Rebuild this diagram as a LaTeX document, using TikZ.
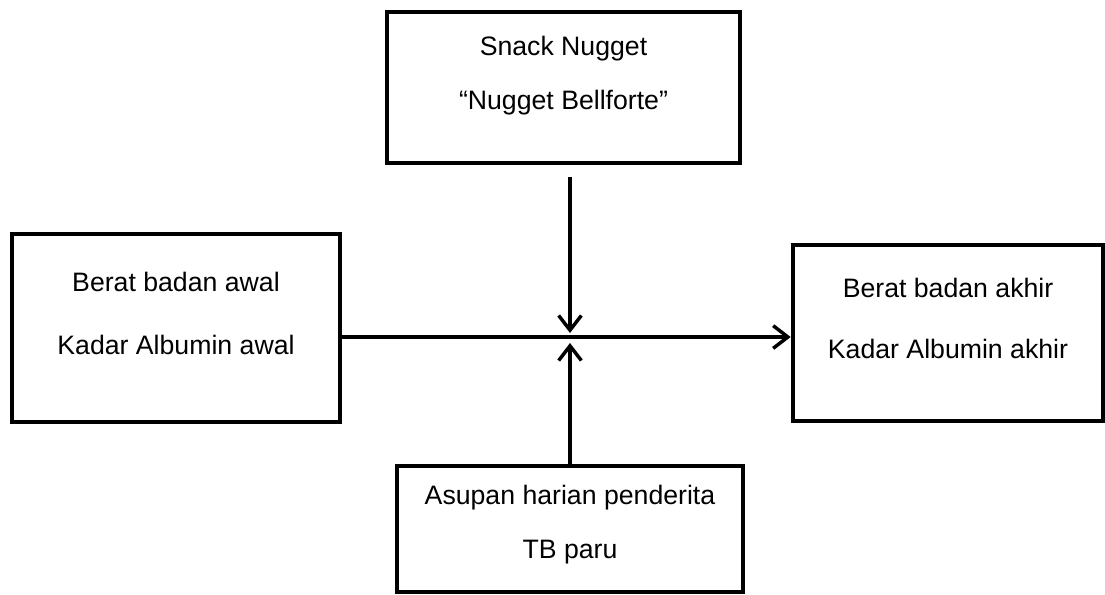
\documentclass[tikz,border=0pt]{standalone}
\usepackage{fontspec}
\setmainfont{Liberation Sans}
\usetikzlibrary{arrows.meta}
\begin{document}
\begin{tikzpicture}[x=0.75pt,y=-0.75pt,
    box/.style={draw, line width=3.5pt, align=center, inner sep=0pt,
      font=\fontsize{20pt}{40pt}\selectfont, text depth=22pt},
    arr/.style={line width=2.6pt, -{Straight Barb[length=11pt,width=17pt]}}]
    \useasboundingbox (0,0) rectangle (1105,594);
    \node[box, minimum width=264.75pt, minimum height=113.25pt] (nugget) at (563.5,87.5) {Snack Nugget\\“Nugget Bellforte”};
    \node[box, minimum width=246pt, minimum height=141pt] (awal) at (176,328) {Berat badan awal\\[7pt]Kadar Albumin awal};
    \node[box, minimum width=232.5pt, minimum height=132pt] (akhir) at (948,333) {Berat badan akhir\\[6pt]Kadar Albumin akhir};
    \node[box, minimum width=259.5pt, minimum height=94.5pt, text depth=11pt] (asupan) at (570,529) {Asupan harian penderita\\[1pt]TB paru};
    \coordinate (meet) at (570,337);
    \draw[arr] (awal.east |- meet) -- (akhir.west |- meet);
    \draw[arr, shorten <=9pt, shorten >=3pt] (nugget.south -| meet) -- (meet);
    \draw[arr, shorten >=4.5pt] (asupan.north -| meet) -- (meet);
  \end{tikzpicture}
\end{document}
